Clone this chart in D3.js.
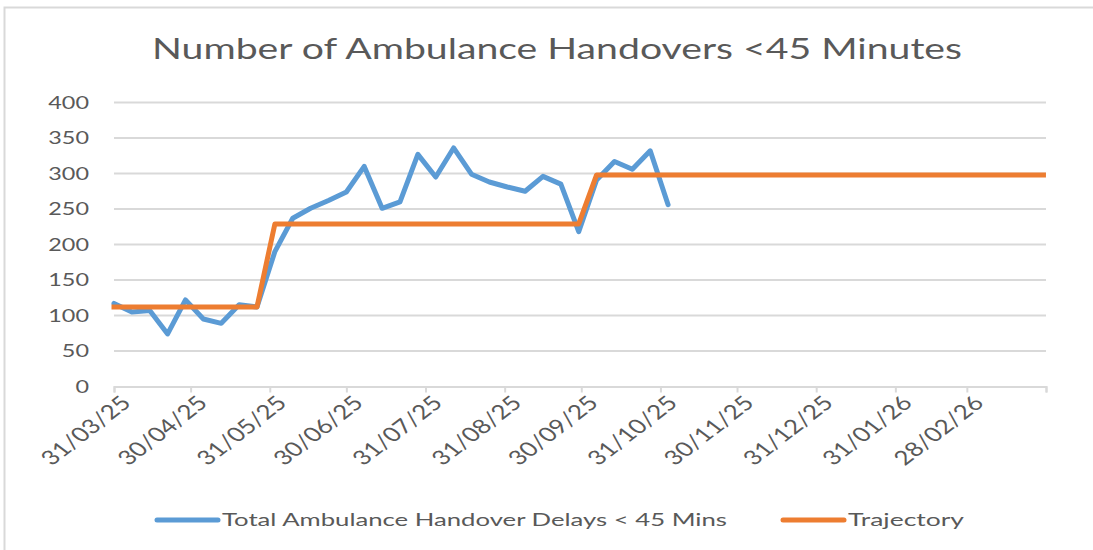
<!DOCTYPE html>
<html>
<head>
<meta charset="utf-8">
<script src="https://cdn.jsdelivr.net/npm/d3@7"></script>
<style>
  html, body { margin: 0; padding: 0; background: #fff; }
  svg { display: block; font-family: Lato, "Open Sans", sans-serif; }
</style>
</head>
<body>
<svg id="chart"></svg>
<script>
// weekly dates (dd/mm/yy)
const weekDates = [
  '31/03/25', '07/04/25', '14/04/25', '21/04/25', '28/04/25', '05/05/25', '12/05/25', '19/05/25',
  '26/05/25', '02/06/25', '09/06/25', '16/06/25', '23/06/25', '30/06/25', '07/07/25', '14/07/25',
  '21/07/25', '28/07/25', '04/08/25', '11/08/25', '18/08/25', '25/08/25', '01/09/25', '08/09/25',
  '15/09/25', '22/09/25', '29/09/25', '06/10/25', '13/10/25', '20/10/25', '27/10/25', '03/11/25',
  '10/11/25', '17/11/25', '24/11/25', '01/12/25', '08/12/25', '15/12/25', '22/12/25', '29/12/25',
  '05/01/26', '12/01/26', '19/01/26', '26/01/26', '02/02/26', '09/02/26', '16/02/26', '23/02/26',
  '02/03/26', '09/03/26', '16/03/26', '23/03/26', '30/03/26'
];

// Total Ambulance Handover Delays < 45 Mins (first 32 weeks)
const handovers = [
  117, 105, 107, 74, 122, 95, 89, 115, 112, 190, 237, 251, 262, 274, 310, 251,
  260, 327, 295, 336, 299, 288, 281, 275, 296, 285, 218, 291, 317, 306, 332, 256
];

// Trajectory (all 53 weeks)
const trajectory = [
  112, 112, 112, 112, 112, 112, 112, 112, 112,
  229, 229, 229, 229, 229, 229, 229, 229, 229, 229, 229, 229, 229, 229, 229, 229, 229, 229,
  298, 298, 298, 298, 298, 298, 298, 298, 298, 298, 298, 298, 298, 298, 298, 298, 298,
  298, 298, 298, 298, 298, 298, 298, 298, 298, 298
];

const tickDates = [
  '31/03/25', '30/04/25', '31/05/25', '30/06/25', '31/07/25', '31/08/25', '30/09/25',
  '31/10/25', '30/11/25', '31/12/25', '31/01/26', '28/02/26', '31/03/26'
];
const tickLabels = [
  '31/03/25', '30/04/25', '31/05/25', '30/06/25', '31/07/25', '31/08/25', '30/09/25',
  '31/10/25', '30/11/25', '31/12/25', '31/01/26', '28/02/26', ''
];
const yTicks = [0, 50, 100, 150, 200, 250, 300, 350, 400];

const TITLE = 'Number of Ambulance Handovers <45 Minutes';
const SERIES_BLUE = 'Total  Ambulance Handover Delays < 45 Mins';
const SERIES_ORANGE = 'Trajectory';

const width = 1093;
const height = 550;
const margin = { top: 102.5, right: 47, bottom: 163.5, left: 114 };
const STRETCH = 1.3; // the picture's text is a little wide
const textColor = '#595959';
const gridColor = '#d9d9d9';
const blue = '#5b9bd5';
const orange = '#ed7d31';

const parseDate = d3.timeParse('%d/%m/%y');

const svg = d3.select('#chart')
  .attr('width', width)
  .attr('height', height);

// chart border (cut at right and bottom)
svg.append('rect')
  .attr('x', 4.5)
  .attr('y', 7.5)
  .attr('width', width + 20)
  .attr('height', height + 20)
  .attr('fill', '#fff')
  .attr('stroke', gridColor)
  .attr('stroke-width', 2);

const x = d3.scaleTime()
  .domain([parseDate(tickDates[0]), parseDate(tickDates[tickDates.length - 1])])
  .range([margin.left, width - margin.right]);

const y = d3.scaleLinear()
  .domain([0, 400])
  .range([height - margin.bottom, margin.top]);

// gridlines
svg.append('g')
  .selectAll('line')
  .data(yTicks.filter(d => d > 0))
  .enter().append('line')
  .attr('x1', margin.left)
  .attr('x2', width - margin.right)
  .attr('y1', d => y(d))
  .attr('y2', d => y(d))
  .attr('stroke', gridColor)
  .attr('stroke-width', 2);

// y labels
svg.append('g')
  .selectAll('text')
  .data(yTicks)
  .enter().append('text')
  .attr('transform', d => `translate(${margin.left - 25}, ${y(d)}) scale(${STRETCH},1)`)
  .attr('dy', '0.36em')
  .attr('text-anchor', 'end')
  .attr('fill', textColor)
  .style('font-size', '18px')
  .text(d => d);

// x axis
const xAxis = d3.axisBottom(x)
  .tickValues(tickDates.map(parseDate))
  .tickSize(6)
  .tickFormat((d, i) => tickLabels[i]);

const gx = svg.append('g')
  .attr('transform', `translate(0, ${y(0)})`)
  .call(xAxis);

gx.select('.domain').attr('stroke', gridColor).attr('stroke-width', 2);
gx.selectAll('.tick line').attr('stroke', gridColor).attr('stroke-width', 2);
gx.selectAll('.tick text')
  .attr('x', null)
  .attr('y', null)
  .attr('dy', '0.7em')
  .attr('transform', `translate(5, 8) scale(${STRETCH},1) rotate(-45)`)
  .attr('text-anchor', 'end')
  .attr('fill', textColor)
  .style('font-size', '20px')
  .style('font-family', 'Lato, "Open Sans", sans-serif');

// lines
const lineGen = d3.line()
  .x(d => x(parseDate(d.date)))
  .y(d => y(d.value));

const trajectoryData = trajectory.map((v, i) => ({ date: weekDates[i], value: v }));
const handoverData = handovers.map((v, i) => ({ date: weekDates[i], value: v }));

svg.append('path')
  .datum(handoverData)
  .attr('d', lineGen)
  .attr('fill', 'none')
  .attr('stroke', blue)
  .attr('stroke-width', 5)
  .attr('stroke-linejoin', 'round')
  .attr('stroke-linecap', 'round');

svg.append('path')
  .datum(trajectoryData)
  .attr('d', lineGen)
  .attr('fill', 'none')
  .attr('stroke', orange)
  .attr('stroke-width', 5)
  .attr('stroke-linejoin', 'round')
  .attr('stroke-linecap', 'square');

// title
svg.append('text')
  .attr('transform', `translate(557, 59) scale(${STRETCH},1)`)
  .attr('text-anchor', 'middle')
  .attr('fill', textColor)
  .attr('textLength', 810 / STRETCH)
  .attr('lengthAdjust', 'spacingAndGlyphs')
  .style('font-size', '29px')
  .text(TITLE);

// legend
const legendItems = [
  { name: SERIES_BLUE, color: blue, x0: 157, textW: 505 },
  { name: SERIES_ORANGE, color: orange, x0: 783, textW: 116 }
];

const legend = svg.append('g')
  .selectAll('g')
  .data(legendItems)
  .enter().append('g')
  .attr('transform', d => `translate(${d.x0}, 520)`);

legend.append('line')
  .attr('x1', 0)
  .attr('x2', 61)
  .attr('stroke', d => d.color)
  .attr('stroke-width', 5)
  .attr('stroke-linecap', 'round');

legend.append('text')
  .attr('transform', `translate(65, 0) scale(${STRETCH},1)`)
  .attr('dy', '0.36em')
  .attr('fill', textColor)
  .attr('textLength', d => d.textW / STRETCH)
  .attr('lengthAdjust', 'spacingAndGlyphs')
  .style('font-size', '18px')
  .text(d => d.name);
</script>
</body>
</html>
